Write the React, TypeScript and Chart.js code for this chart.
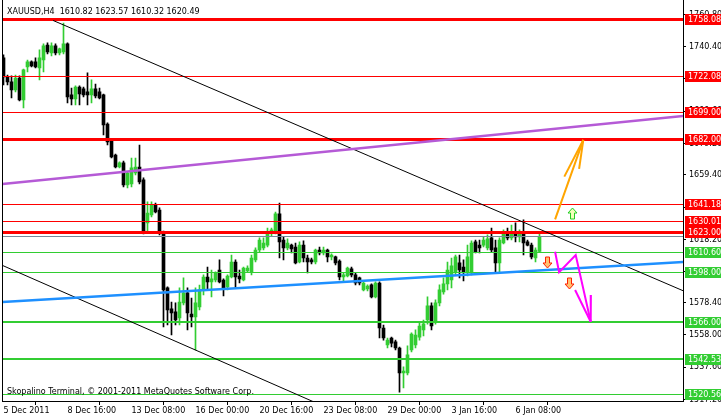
import React, { useEffect, useRef } from 'react';
import { Chart, registerables } from 'chart.js';

Chart.register(...registerables);

// ---------- data ----------
const symbolTitle = 'XAUUSD,H4';
const copyrightText = 'Skopalino Terminal, © 2001-2011 MetaQuotes Software Corp.';

const xTickIndex = [0, 16, 32, 48, 64, 80, 96, 112, 128];
const xTickLabels = ['5 Dec 2011', '8 Dec 16:00', '13 Dec 08:00', '16 Dec 00:00', '20 Dec 16:00', '23 Dec 08:00', '29 Dec 00:00', '3 Jan 16:00', '6 Jan 08:00'];

const yTicks = [1760.8, 1740.4, 1720.0, 1699.6, 1679.2, 1659.4, 1638.6, 1618.2, 1598.2, 1578.4, 1558.0, 1537.6, 1517.2];
const yTickLabels = ['1760.80', '1740.40', '1720.00', '1699.60', '1679.20', '1659.40', '1638.60', '1618.20', '1598.20', '1578.40', '1558.00', '1537.60', '1517.20'];

const opens = [
  1733.3, 1721.3, 1718.1, 1713.0, 1720.6, 1706.7, 1727.6, 1730.8, 1730.8, 1727.0,
  1732.0, 1741.5, 1736.5, 1740.9, 1736.5, 1737.1, 1742.2, 1709.9, 1707.4, 1714.9,
  1713.7, 1711.8, 1709.9, 1713.7, 1711.8, 1709.9, 1691.5, 1680.8, 1671.9, 1664.3,
  1666.9, 1652.9, 1653.6, 1660.5, 1664.3, 1656.1, 1628.9, 1633.9, 1640.3, 1637.1,
  1623.2, 1587.8, 1574.5, 1572.6, 1568.8, 1578.3, 1584.6, 1571.3, 1569.4, 1575.7,
  1586.5, 1594.7, 1591.6, 1592.8, 1599.1, 1592.8, 1588.4, 1594.7, 1604.2, 1595.3,
  1592.8, 1598.5, 1597.9, 1605.5, 1611.8, 1613.1, 1614.9, 1622.6, 1623.2, 1634.6,
  1618.1, 1613.1, 1614.9, 1613.7, 1604.2, 1614.9, 1606.7, 1605.5, 1604.2, 1611.8,
  1609.9, 1611.8, 1607.4, 1607.4, 1604.8, 1594.7, 1595.3, 1599.8, 1596.0, 1594.1,
  1586.5, 1587.1, 1589.7, 1582.1, 1590.9, 1562.4, 1551.7, 1556.1, 1553.6, 1549.8,
  1534.0, 1534.0, 1548.5, 1551.7, 1556.7, 1561.2, 1567.5, 1576.4, 1566.2, 1578.3,
  1585.2, 1590.3, 1592.8, 1597.9, 1603.6, 1601.0, 1597.9, 1597.2, 1616.9, 1614.9,
  1614.9, 1613.1, 1619.4, 1613.1, 1603.6, 1616.2, 1622.6, 1619.4, 1623.2, 1620.0,
  1622.6, 1616.9, 1614.9, 1606.7, 1610.82,
];
const highs = [
  1735.2, 1722.5, 1721.9, 1722.5, 1721.9, 1726.3, 1732.0, 1731.4, 1733.3, 1738.4,
  1742.2, 1742.8, 1742.8, 1742.2, 1739.6, 1755.4, 1742.8, 1714.3, 1715.6, 1715.6,
  1714.9, 1723.8, 1719.4, 1716.8, 1714.3, 1710.5, 1692.2, 1682.0, 1672.5, 1667.5,
  1668.1, 1661.2, 1670.0, 1670.0, 1678.2, 1657.4, 1642.2, 1642.2, 1641.5, 1638.4,
  1623.8, 1588.4, 1578.9, 1578.3, 1587.8, 1594.1, 1587.8, 1581.4, 1587.8, 1589.6,
  1596.0, 1601.0, 1599.1, 1597.9, 1605.5, 1593.5, 1596.0, 1608.6, 1605.5, 1599.1,
  1601.0, 1601.7, 1608.6, 1613.1, 1619.4, 1619.4, 1625.7, 1625.7, 1635.8, 1641.5,
  1620.0, 1618.8, 1615.6, 1616.2, 1616.9, 1617.5, 1608.6, 1606.7, 1612.4, 1613.7,
  1613.7, 1612.4, 1609.3, 1608.0, 1605.5, 1597.2, 1601.0, 1601.0, 1597.2, 1594.7,
  1592.2, 1589.7, 1590.3, 1591.6, 1591.6, 1564.3, 1556.1, 1556.7, 1554.8, 1550.4,
  1537.8, 1551.1, 1559.3, 1561.2, 1566.2, 1567.5, 1582.1, 1578.3, 1580.2, 1589.7,
  1594.1, 1604.2, 1606.7, 1608.6, 1608.6, 1605.5, 1614.9, 1617.5, 1618.1, 1618.1,
  1620.0, 1621.3, 1625.7, 1618.1, 1619.4, 1624.5, 1625.7, 1627.6, 1628.9, 1624.5,
  1630.8, 1618.1, 1616.2, 1613.1, 1623.57,
];
const lows = [
  1716.2, 1716.2, 1708.0, 1711.8, 1706.1, 1701.7, 1724.4, 1727.6, 1727.0, 1719.4,
  1724.4, 1735.8, 1734.6, 1735.2, 1735.2, 1735.8, 1704.8, 1703.6, 1703.6, 1703.6,
  1708.6, 1703.6, 1704.8, 1708.0, 1707.4, 1684.6, 1678.2, 1670.0, 1663.7, 1663.7,
  1651.7, 1651.0, 1651.7, 1659.3, 1653.6, 1621.9, 1622.6, 1632.7, 1635.2, 1621.3,
  1563.1, 1564.3, 1558.0, 1564.3, 1564.3, 1577.0, 1561.2, 1563.1, 1548.5, 1573.8,
  1583.3, 1586.5, 1582.1, 1591.6, 1590.9, 1582.7, 1586.5, 1594.1, 1587.8, 1590.9,
  1592.2, 1597.9, 1596.0, 1604.2, 1610.5, 1611.8, 1613.7, 1620.7, 1621.9, 1606.7,
  1605.5, 1611.8, 1609.9, 1602.9, 1603.6, 1604.2, 1597.2, 1602.9, 1602.9, 1608.6,
  1608.6, 1604.2, 1605.5, 1602.3, 1592.8, 1591.6, 1594.7, 1594.7, 1589.7, 1589.7,
  1585.9, 1585.9, 1581.4, 1581.4, 1556.1, 1554.8, 1549.8, 1550.4, 1548.5, 1521.9,
  1524.5, 1532.7, 1547.3, 1549.8, 1554.8, 1557.4, 1564.9, 1561.2, 1564.9, 1576.4,
  1583.9, 1586.5, 1587.8, 1596.0, 1594.1, 1592.2, 1595.3, 1596.0, 1609.9, 1609.9,
  1613.7, 1611.8, 1610.5, 1597.9, 1597.9, 1615.6, 1618.1, 1618.1, 1616.9, 1616.9,
  1608.6, 1614.3, 1606.1, 1604.2, 1610.32,
];
const closes = [
  1721.3, 1718.1, 1713.0, 1720.6, 1706.7, 1725.7, 1730.8, 1728.2, 1727.6, 1733.3,
  1740.9, 1737.1, 1740.9, 1736.5, 1739.0, 1742.2, 1708.6, 1707.4, 1714.9, 1710.5,
  1709.9, 1709.9, 1713.7, 1709.3, 1708.0, 1690.9, 1680.1, 1670.6, 1664.3, 1666.9,
  1652.9, 1660.5, 1663.7, 1664.3, 1654.8, 1623.2, 1635.2, 1640.3, 1635.8, 1622.6,
  1586.5, 1573.8, 1571.9, 1567.5, 1578.9, 1584.6, 1571.9, 1569.4, 1578.3, 1586.5,
  1594.7, 1591.6, 1593.5, 1597.2, 1591.6, 1587.8, 1595.3, 1604.2, 1594.7, 1593.5,
  1600.4, 1600.4, 1606.7, 1611.8, 1618.1, 1616.2, 1623.2, 1624.5, 1634.6, 1616.9,
  1613.1, 1616.2, 1612.4, 1603.6, 1614.9, 1606.7, 1604.2, 1604.2, 1611.8, 1609.9,
  1611.8, 1607.4, 1608.6, 1603.6, 1594.7, 1596.0, 1600.4, 1596.0, 1590.9, 1590.9,
  1590.9, 1589.0, 1582.1, 1590.9, 1562.4, 1556.1, 1554.8, 1552.9, 1549.8, 1534.0,
  1535.2, 1545.4, 1558.6, 1558.0, 1563.7, 1565.0, 1576.4, 1563.7, 1578.3, 1586.5,
  1590.3, 1599.1, 1601.7, 1607.4, 1599.1, 1597.9, 1607.4, 1616.2, 1610.5, 1613.1,
  1618.1, 1618.8, 1611.8, 1603.6, 1618.1, 1622.6, 1619.4, 1623.2, 1620.0, 1622.6,
  1616.2, 1614.9, 1607.4, 1611.8, 1620.49,
];

// horizontal levels (price) with label boxes
const levelPrices = [1758.08, 1722.08, 1699.0, 1682.0, 1641.18, 1630.01, 1623.0, 1610.6, 1598.0, 1566.0, 1542.53, 1520.56];
const levelLabels = ['1758.08', '1722.08', '1699.00', '1682.00', '1641.18', '1630.01', '1623.00', '1610.60', '1598.00', '1566.00', '1542.53', '1520.56'];
const bidPrice = 1620.49;

// trend lines: [barIndex, price]
const upperChannel = [[12.4, 1757.0], [169.9, 1586.0]];
const lowerChannel = [[-0.25, 1602.0], [79.9, 1513.1]];
const purpleLine = [[-0.25, 1653.6], [169.9, 1696.6]];
const blueLine = [[-0.25, 1578.9], [169.9, 1604.2]];
const orangeShaft = [[137.9, 1631.2], [144.95, 1681.4]];
const orangeBarbA = [[140.2, 1658.2], [144.95, 1681.4]];
const orangeBarbB = [[143.9, 1663.1], [144.95, 1681.4]];
const magentaPath = [[137.9, 1610.7], [138.9, 1597.7], [143.05, 1608.6], [146.8, 1566.4]];
const magentaBarbA = [[142.9, 1586.5], [146.8, 1566.4]];
const magentaBarbB = [[146.85, 1583.3], [146.8, 1566.4]];

// arrow symbols: [barIndex, price]
const upSymbols = [[142.0, 1635.2]];
const downSymbols = [[135.75, 1604.2], [141.4, 1591.2]];

// ---------- styles ----------
const FONT = '"DejaVu Sans", sans-serif';
const GREEN = '#32CD32';
const RED = '#FF0000';
const levelColors = [RED, RED, RED, RED, RED, RED, RED, GREEN, GREEN, GREEN, GREEN, GREEN];
const levelWidths = [3, 1, 1, 3, 1, 1, 3, 1, 1, 2, 2, 1];

export default function App() {
  const ref = useRef<HTMLCanvasElement>(null);

  useEffect(() => {
    document.body.style.margin = '0';
    const canvas = ref.current;
    if (!canvas) return;

    const idx = closes.map((_, i) => i);
    const candleColors = idx.map((i) => (closes[i] >= opens[i] ? GREEN : '#000000'));

    const seg = (pts: number[][], color: string, width: number, order: number) => ({
      type: 'line' as const,
      data: pts.map(([x, y]) => ({ x, y })),
      borderColor: color,
      borderWidth: width,
      pointRadius: 0,
      fill: false,
      tension: 0,
      order,
    });

    const BODY_ORDER = 19;

    const drawArrow = (ctx: CanvasRenderingContext2D, cx: number, cy: number, up: boolean, stroke: string, fill: string) => {
      const hw = 4.5, sw = 2, h = 5.5;
      const d = up ? 1 : -1;
      ctx.beginPath();
      ctx.moveTo(cx, cy - d * h);
      ctx.lineTo(cx + hw, cy - d * 0.5);
      ctx.lineTo(cx + sw, cy - d * 0.5);
      ctx.lineTo(cx + sw, cy + d * h);
      ctx.lineTo(cx - sw, cy + d * h);
      ctx.lineTo(cx - sw, cy - d * 0.5);
      ctx.lineTo(cx - hw, cy - d * 0.5);
      ctx.closePath();
      ctx.fillStyle = fill;
      ctx.fill();
      ctx.strokeStyle = stroke;
      ctx.lineWidth = 1;
      ctx.stroke();
    };

    const overlay = {
      id: 'mt4overlay',
      afterDatasetDraw(chart: any, args: any) {
        if (args.meta.order !== BODY_ORDER && args.meta.controller?._cachedMeta?.order !== BODY_ORDER) return;
        const { ctx, chartArea, scales } = chart;
        const y = scales.y;
        ctx.save();
        levelPrices.forEach((p, k) => {
          const py = Math.round(y.getPixelForValue(p));
          const w = levelWidths[k];
          ctx.fillStyle = levelColors[k];
          ctx.fillRect(chartArea.left, py - Math.floor(w / 2), chartArea.right - chartArea.left, w);
        });
        const by = Math.round(y.getPixelForValue(bidPrice));
        ctx.fillStyle = '#778899';
        ctx.fillRect(chartArea.left, by, chartArea.right - chartArea.left, 1);
        ctx.restore();
      },
      afterDraw(chart: any) {
        const { ctx, chartArea, scales } = chart;
        const x = scales.x;
        const y = scales.y;
        ctx.save();
        // left frame
        ctx.fillStyle = '#000';
        ctx.fillRect(Math.floor(chartArea.left), 0, 1, chartArea.bottom);
        // price labels
        ctx.font = '8px ' + FONT;
        ctx.textBaseline = 'middle';
        ctx.textAlign = 'left';
        levelPrices.forEach((p, k) => {
          const py = Math.round(y.getPixelForValue(p));
          ctx.fillStyle = levelColors[k];
          ctx.fillRect(chartArea.right + 2, py - 5, 40, 11);
          ctx.fillStyle = '#FFFFFF';
          ctx.fillText(levelLabels[k], chartArea.right + 5, py + 0.5);
        });
        // symbols
        upSymbols.forEach(([i, p]) => drawArrow(ctx, Math.round(x.getPixelForValue(i)) + 0.5, Math.round(y.getPixelForValue(p)) + 0.5, true, '#22CC22', '#F2FFB8'));
        downSymbols.forEach(([i, p]) => drawArrow(ctx, Math.round(x.getPixelForValue(i)) + 0.5, Math.round(y.getPixelForValue(p)) + 0.5, false, '#FF2000', '#FFC070'));
        // texts
        ctx.fillStyle = '#000';
        ctx.textBaseline = 'alphabetic';
        ctx.font = '8px ' + FONT;
        const head = symbolTitle + '  ' + [opens[134], highs[134], lows[134], closes[134]].map((v) => v.toFixed(2)).join(' ');
        ctx.fillText(head, 7, 13.5);
        ctx.fillText(copyrightText, 7, 394);
        ctx.restore();
      },
    };

    const chart = new Chart(canvas, {
      type: 'bar',
      data: {
        datasets: [
          seg(upperChannel, '#000000', 1, 5),
          seg(lowerChannel, '#000000', 1, 5),
          seg(purpleLine, '#B55AD6', 2.5, 4),
          seg(blueLine, '#1E90FF', 2.5, 4),
          seg(orangeShaft, '#FFA500', 2, 3),
          seg(orangeBarbA, '#FFA500', 2, 3),
          seg(orangeBarbB, '#FFA500', 2, 3),
          seg(magentaPath, '#FF00FF', 2, 3),
          seg(magentaBarbA, '#FF00FF', 2, 3),
          seg(magentaBarbB, '#FF00FF', 2, 3),
          {
            type: 'bar' as const,
            data: idx.map((i) => ({ x: i, y: [opens[i], closes[i]] })),
            backgroundColor: candleColors,
            borderWidth: 0,
            barThickness: 3,
            grouped: false,
            order: BODY_ORDER,
          } as any,
          {
            type: 'bar' as const,
            data: idx.map((i) => ({ x: i, y: [lows[i], highs[i]] })),
            backgroundColor: candleColors,
            borderWidth: 0,
            barThickness: 1,
            grouped: false,
            order: 20,
          } as any,
        ],
      },
      options: {
        responsive: false,
        maintainAspectRatio: false,
        animation: false,
        devicePixelRatio: 1,
        layout: { padding: { left: 2.5, top: 0, right: 0, bottom: 0 } },
        plugins: { legend: { display: false }, tooltip: { enabled: false } },
        events: [],
        scales: {
          x: {
            type: 'linear',
            min: -0.25,
            max: 169.875,
            offset: false,
            grid: { display: true, drawOnChartArea: false, drawTicks: true, tickLength: 4, color: '#000' },
            border: { display: true, color: '#000' },
            ticks: {
              autoSkip: false,
              maxRotation: 0,
              minRotation: 0,
              align: 'start',
              padding: 1,
              color: '#000',
              font: { family: FONT, size: 8 },
              callback: (_v: any, index: number) => xTickLabels[index],
            },
            afterBuildTicks: (s: any) => {
              s.ticks = xTickIndex.map((v) => ({ value: v }));
            },
            afterFit: (s: any) => {
              s.height = 17;
              s.paddingLeft = 0;
              s.paddingRight = 0;
            },
          },
          y: {
            type: 'linear',
            position: 'right',
            min: 1516.24,
            max: 1769.95,
            beginAtZero: false,
            grid: { display: true, drawOnChartArea: false, drawTicks: true, tickLength: 3, color: '#000' },
            border: { display: true, color: '#000' },
            ticks: {
              autoSkip: false,
              padding: 3,
              color: '#000',
              font: { family: FONT, size: 8 },
              callback: (_v: any, index: number) => yTickLabels[index],
            },
            afterBuildTicks: (s: any) => {
              s.ticks = yTicks.map((v) => ({ value: v }));
            },
            afterFit: (s: any) => {
              s.width = 38;
              s.paddingTop = 0;
              s.paddingBottom = 0;
            },
          },
        },
      } as any,
      plugins: [overlay],
    });

    return () => chart.destroy();
  }, []);

  return (
    <div style={{ width: 721, height: 418, background: '#fff' }}>
      <canvas ref={ref} width={721} height={418} style={{ display: 'block' }} />
    </div>
  );
}
